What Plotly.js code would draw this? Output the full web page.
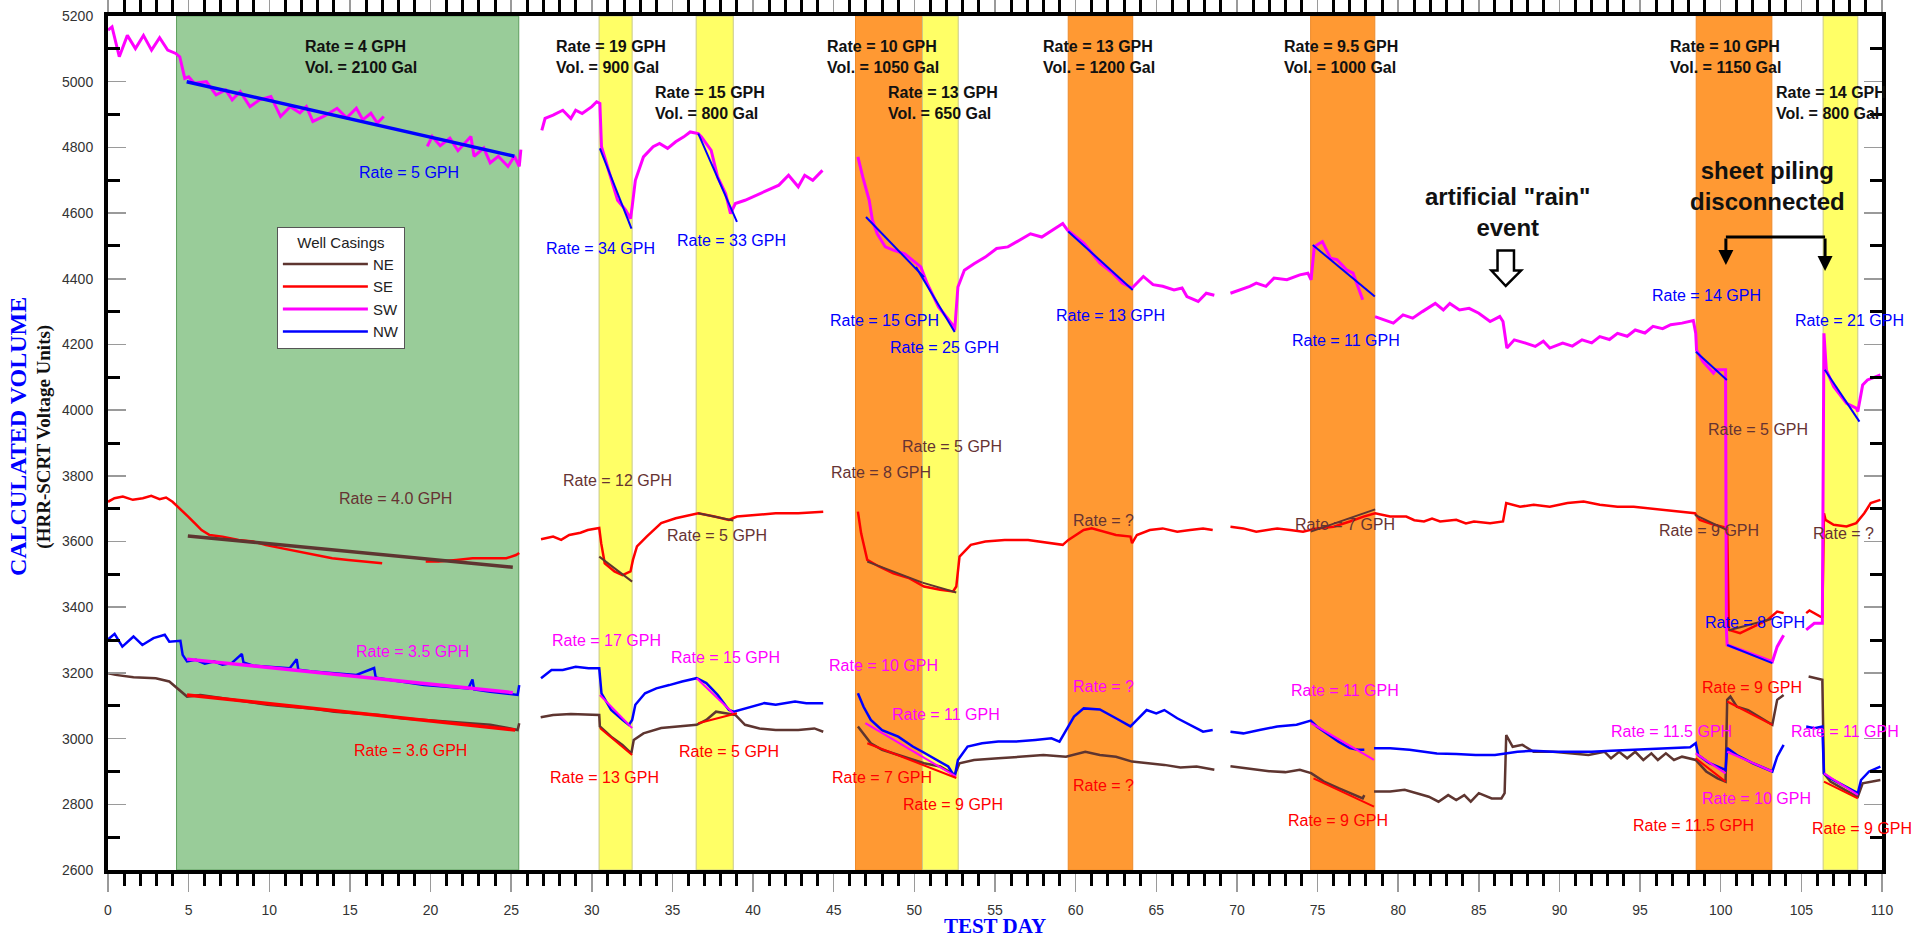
<!DOCTYPE html>
<html><head><meta charset="utf-8">
<script src="https://cdn.plot.ly/plotly-3.0.1.min.js"></script>
<style>html,body{margin:0;padding:0;background:#fff;}#chart{width:1911px;height:938px;}</style>
</head><body><div id="chart"></div>
<script>
// ---------------- DATA ----------------
const SW_x = [0,0.25,0.7,1.2,1.7,2.2,2.7,3.2,3.7,4.2,4.45,4.76,5.0,5.35,6.1,6.7,7.3,7.7,8.2,8.8,9.4,10.1,10.7,11.3,11.9,12.3,12.7,13.4,14.2,14.8,15.4,15.8,16.3,16.7,17.1,null,
 19.8,20.1,20.6,21.2,21.7,22.5,22.7,23.3,23.7,24.2,24.8,25.2,25.5,25.6,null,
 26.9,27.1,27.6,28.2,28.7,29.0,29.4,30.0,30.3,30.5,30.6,31.2,31.6,32.1,32.4,32.5,32.7,33.2,33.8,34.2,34.7,35.2,35.7,36.1,36.6,36.8,37.4,37.8,38.3,38.6,38.9,39.5,40.2,40.6,41.1,41.6,42.2,42.8,43.2,43.7,44.3,null,
 46.5,46.8,47.2,47.4,47.7,48.2,48.7,49.4,49.9,50.4,50.8,51.5,52.0,52.4,52.5,52.7,53.1,53.7,54.4,55.1,55.8,56.5,57.2,57.9,58.6,59.2,59.5,60.5,61.5,62.3,62.9,63.5,64.2,64.8,65.4,66.1,66.6,66.9,67.6,68.1,68.6,null,
 69.6,70.2,70.8,71.2,71.8,72.3,73.1,73.9,74.4,74.6,74.8,75.3,75.8,76.2,76.8,77.2,77.5,77.8,null,
 78.56,79.1,79.7,80.3,80.9,81.5,82.3,82.8,83.2,83.8,84.4,85.0,85.7,86.3,86.5,86.74,87.2,87.9,88.5,89.0,89.4,90.2,90.8,91.4,92.0,92.5,93.1,93.6,94.2,94.7,95.3,95.8,96.4,96.9,97.6,98.3,98.45,98.5,98.9,99.55,99.7,100.3,100.35,100.4,101.2,102.0,103.2,103.5,103.9,null,
 105.3,105.8,106.3,106.4,106.55,107.0,107.8,108.4,108.5,108.8,109.1,109.9];
const SW_y = [5157,5167,5076,5141,5101,5141,5096,5134,5096,5086,5076,5010,5015,4995,5000,4960,4975,4945,4970,4924,4945,4955,4894,4924,4905,4924,4879,4895,4919,4890,4919,4884,4904,4874,4894,null,
 4803,4833,4805,4828,4790,4833,4773,4798,4753,4773,4742,4773,4742,4793,null,
 4852,4888,4898,4913,4888,4913,4903,4924,4939,4934,4802,4700,4639,4609,4583,4619,4700,4771,4802,4812,4797,4817,4832,4847,4842,4832,4791,4710,4659,4598,4629,4639,4654,4664,4675,4685,4715,4680,4715,4700,4730,null,
 4771,4710,4639,4578,4537,4497,4487,4476,4456,4436,4385,4314,4283,4258,4243,4375,4426,4446,4466,4492,4497,4517,4537,4527,4548,4568,4548,4509,4448,4417,4387,4372,4407,4382,4377,4366,4372,4346,4331,4356,4350,null,
 4356,4366,4377,4387,4377,4402,4397,4412,4417,4397,4498,4513,4463,4458,4427,4417,4377,4336,null,
 4285,4275,4265,4290,4280,4300,4325,4305,4325,4305,4310,4295,4270,4285,4270,4189,4214,4204,4194,4210,4189,4204,4195,4214,4205,4224,4215,4234,4225,4244,4235,4255,4248,4260,4265,4273,4234,4183,4148,4113,4123,4123,3331,3285,3270,3255,3234,3280,3315,null,
 3331,3351,3351,4234,4122,4072,4021,4006,3996,4077,4092,4107];

const SE_x = [0,0.4,0.92,1.54,2.16,2.68,3.2,3.6,4.0,4.46,4.97,5.5,5.8,6.3,7.1,8.1,9.0,9.8,10.8,11.8,12.9,13.9,14.9,16.0,17.0,null,
 19.7,20.5,21.6,22.6,23.7,24.7,25.3,25.5,null,
 26.85,27.6,28.1,28.6,29.3,29.75,30.46,30.58,30.8,31.4,31.9,32.4,32.55,32.8,33.4,34.3,35.2,36.2,36.6,37.6,38.5,39.0,40.4,41.4,42.8,44.35,null,
 46.5,46.7,47.08,47.8,48.7,49.7,50.6,51.6,52.4,52.6,52.8,53.5,54.4,55.6,57.05,58.5,59.2,59.55,60.5,61.0,61.8,62.5,63.4,63.5,63.8,64.6,65.4,66.3,67.1,67.9,68.5,null,
 69.6,70.4,71.2,72.5,73.3,74.1,74.95,76.0,77.0,77.85,78.57,79.5,80.5,81.0,81.6,82.1,82.6,83.6,84.2,84.7,85.7,86.5,86.7,87.56,88.4,89.4,90.5,91.5,92.5,93.6,94.6,95.6,96.7,97.7,98.4,98.7,99.6,100.4,100.5,101.2,102.0,102.9,103.5,103.9,null,
 105.3,105.5,106.2,106.3,106.4,106.5,107.0,107.8,108.4,108.9,109.3,109.9];
const SE_y = [3721,3732,3737,3727,3732,3739,3729,3734,3721,3701,3676,3650,3635,3620,3615,3605,3600,3589,3579,3569,3559,3549,3544,3539,3534,null,
 3539,3539,3544,3549,3549,3549,3559,3565,null,
 3607,3615,3605,3620,3627,3635,3641,3595,3534,3509,3498,3509,3544,3585,3615,3656,3671,3681,3686,3676,3666,3676,3681,3686,3686,3691,null,
 3691,3625,3544,3524,3503,3488,3463,3453,3448,3463,3554,3590,3600,3605,3605,3595,3590,3605,3635,3640,3630,3620,3615,3595,3620,3635,3640,3630,3635,3640,3635,null,
 3645,3640,3630,3640,3635,3630,3640,3645,3661,3676,3686,3676,3676,3665,3661,3670,3661,3666,3655,3661,3656,3661,3717,3706,3712,3706,3717,3722,3712,3706,3706,3701,3696,3691,3686,3666,3651,3641,3331,3321,3341,3361,3387,3382,null,
 3382,3390,3371,3371,3686,3666,3651,3646,3656,3686,3717,3727];

const NW_x = [0,0.41,0.89,1.58,2.13,2.82,3.52,3.8,4.49,4.63,4.9,5.45,6.0,6.56,7.1,7.67,8.3,8.4,9.0,9.9,11.27,11.7,11.8,12.66,14.04,15.4,16.5,16.6,16.8,18.2,19.6,21.0,22.35,22.6,22.7,23.7,24.8,25.4,25.5,null,
 26.85,27.5,28.2,29.0,29.8,30.46,30.6,31.2,31.9,32.3,32.5,32.7,33.3,34.0,34.8,35.6,36.5,37.1,37.8,38.5,38.8,39.5,40.7,41.4,42.6,43.3,44.35,null,
 46.5,46.85,47.3,48.0,49.0,49.9,50.5,51.4,52.1,52.5,52.7,53.3,54.2,55.2,56.3,57.5,58.5,59.0,59.4,59.9,60.5,61.5,62.5,63.4,63.8,64.4,65.0,65.5,66.3,67.1,67.9,68.5,null,
 69.6,70.4,71.4,72.5,73.7,74.58,74.95,75.4,75.8,76.3,77.0,77.5,77.9,null,
 78.5,79.5,80.7,81.5,82.4,83.6,84.8,86.0,86.7,87.4,88.4,89.6,90.8,92.0,93.2,94.5,95.7,96.9,98.1,98.45,98.6,99.3,100.3,100.4,101.0,102.0,103.2,103.5,103.9,null,
 105.3,105.8,106.3,106.4,106.8,107.7,108.5,108.7,109.2,109.9];
const NW_y = [3302,3319,3280,3311,3285,3306,3316,3295,3298,3255,3235,3240,3228,3235,3225,3230,3258,3232,3222,3219,3214,3242,3210,3204,3199,3194,3215,3186,3184,3174,3163,3158,3153,3180,3150,3143,3138,3133,3163,null,
 3184,3209,3209,3219,3214,3214,3138,3087,3057,3042,3057,3103,3138,3153,3163,3174,3184,3169,3133,3087,3082,3092,3108,3103,3113,3108,3108,null,
 3138,3097,3057,3026,3006,2976,2960,2935,2915,2884,2935,2976,2986,2991,2991,2996,3001,2991,3026,3067,3092,3089,3062,3037,3057,3087,3077,3087,3062,3042,3021,3026,null,
 3021,3016,3026,3037,3042,3055,3037,3021,3006,2991,2971,2966,2966,null,
 2971,2971,2966,2960,2955,2953,2950,2950,2955,2960,2963,2960,2960,2960,2963,2966,2968,2971,2974,2986,2950,2925,2905,2971,2950,2925,2900,2945,2981,null,
 3037,3032,3037,2894,2879,2854,2834,2874,2900,2915];

const NE_x = [0,0.47,1.58,2.96,3.8,4.2,4.63,4.9,5.73,7.1,8.5,9.9,11.27,12.66,14.04,15.4,16.8,18.2,19.6,21.0,22.35,23.7,24.8,25.4,25.5,null,
 26.83,27.6,28.7,29.8,30.46,30.5,31.2,31.9,32.45,32.6,33.2,34.3,35.4,36.5,37.1,37.7,38.3,38.9,39.5,40.4,41.4,42.8,43.8,44.35,null,
 46.5,46.85,47.3,48.0,49.0,49.9,50.6,51.6,52.5,52.8,53.7,55.2,56.6,58.0,59.4,60.6,61.5,62.5,63.5,64.5,65.5,66.5,67.5,68.6,null,
 69.6,70.8,72.0,73.0,73.9,74.6,75.4,76.3,77.0,77.8,77.9,null,
 78.5,79.5,80.4,81.2,81.9,82.5,83.1,83.6,84.1,84.5,85.0,85.8,86.4,86.6,86.7,87.1,87.7,88.4,89.6,90.8,91.8,92.8,93.2,93.7,94.2,94.7,95.2,95.7,96.1,96.6,97.1,97.6,98.45,99.1,99.8,100.3,100.4,100.6,101.0,101.7,102.4,103.2,103.5,103.9,null,
 105.45,106.3,106.4,106.8,107.7,108.5,108.8,109.9];
const NE_y = [3199,3194,3187,3184,3174,3158,3138,3128,3133,3123,3113,3103,3097,3092,3082,3077,3072,3062,3057,3052,3047,3042,3032,3026,3047,null,
 3065,3072,3075,3072,3072,3037,3006,2981,2955,2996,3016,3032,3037,3042,3057,3082,3077,3072,3042,3031,3026,3026,3031,3021,null,
 3037,3016,2986,2966,2950,2935,2925,2915,2890,2925,2935,2940,2945,2950,2945,2960,2950,2945,2930,2925,2920,2912,2915,2905,null,
 2916,2908,2901,2898,2905,2895,2869,2849,2834,2818,2828,null,
 2839,2839,2844,2834,2823,2808,2828,2813,2828,2808,2834,2818,2818,2834,3011,2975,2981,2960,2960,2955,2950,2960,2940,2960,2940,2960,2935,2955,2935,2955,2935,2945,2935,2900,2879,2869,3118,3128,3097,3087,3067,3042,3118,3133,null,
 3189,3179,2894,2869,2844,2823,2864,2874];

// straight-line rate fits (pairs of end points, separated by null)
const SWfitG_x = [4.88,25.2];           const SWfitG_y = [5000,4773];
const SWfit_x = [30.5,32.46,null,36.6,39.0,null,47.0,50.6,null,50.1,52.5,null,59.54,63.54,null,74.7,78.55,null,98.46,100.38,null,100.4,103.2,null,106.45,108.6];
const SWfit_y = [4797,4553,null,4842,4573,null,4588,4405,null,4436,4238,null,4544,4366,null,4503,4346,null,4178,4092,null,3285,3230,null,4123,3965];
const SEfitG_x = [4.95,25.1];           const SEfitG_y = [3617,3522];
const SEfit_x = [30.46,32.5,null,36.6,38.77,null,47.08,50.5,null,50.5,52.6,null,74.58,78.57,null,98.4,100.4,null,100.5,103.2];
const SEfit_y = [3554,3478,null,3686,3664,null,3539,3475,null,3475,3445,null,3630,3698,null,3681,3635,null,3330,3365];
const NWfitG_x = [4.9,25.1];            const NWfitG_y = [3242,3140];
const NWfit_x = [30.5,32.5,null,36.5,38.77,null,46.96,52.6,null,74.6,78.5,null,98.45,100.3,null,100.4,103.2,null,106.4,108.5];
const NWfit_y = [3133,3032,null,3184,3077,null,3047,2884,null,3047,2935,null,2955,2894,null,2960,2900,null,2894,2829];
const NEfitG_x = [4.9,25.25];           const NEfitG_y = [3133,3026];
const NEfit_x = [30.5,32.5,null,36.6,39.0,null,47.08,52.6,null,74.75,78.5,null,98.45,100.3,null,100.4,103.2,null,106.4,108.5];
const NEfit_y = [3032,2950,null,3047,3077,null,2986,2880,null,2879,2793,null,2940,2869,null,3113,3042,null,2869,2818];

// test periods (shaded bands)
const bandStart = [4.25,30.45,36.47,46.35,50.5,59.54,74.57,98.48,106.35];
const bandEnd   = [25.47,32.5,38.77,50.5,52.72,63.54,78.55,103.17,108.5];
const bandKind  = ['green','yellow','yellow','orange','yellow','orange','orange','orange','yellow'];

const wellNames = ['NE','SE','SW','NW'];

// test labels (bold black)
const testText = ['Rate = 4 GPH<br>Vol. = 2100 Gal','Rate = 19 GPH<br>Vol. = 900 Gal','Rate = 15 GPH<br>Vol. = 800 Gal',
  'Rate = 10 GPH<br>Vol. = 1050 Gal','Rate = 13 GPH<br>Vol. = 650 Gal','Rate = 13 GPH<br>Vol. = 1200 Gal',
  'Rate = 9.5 GPH<br>Vol. = 1000 Gal','Rate = 10 GPH<br>Vol. = 1150 Gal','Rate = 14 GPH<br>Vol. = 800 Gal'];
const testX = [12.1,27.65,33.8,44.45,48.25,57.83,72.8,96.76,103.3];
const testY = [5074,5074,4934,5074,4934,5074,5074,5074,4934];

// rate labels
const rateText = ['Rate = 5 GPH','Rate = 34 GPH','Rate = 33 GPH','Rate = 15 GPH','Rate = 25 GPH','Rate = 13 GPH','Rate = 11 GPH','Rate = 14 GPH','Rate = 21 GPH','Rate = 8 GPH',
  'Rate = 4.0 GPH','Rate = 12 GPH','Rate = 5 GPH','Rate = 8 GPH','Rate = 5 GPH','Rate = ?','Rate = 7 GPH','Rate = 5 GPH','Rate = 9 GPH','Rate = ?',
  'Rate = 3.5 GPH','Rate = 17 GPH','Rate = 15 GPH','Rate = 10 GPH','Rate = 11 GPH','Rate = ?','Rate = 11 GPH','Rate = 11.5 GPH','Rate = 10 GPH','Rate = 11 GPH',
  'Rate = 3.6 GPH','Rate = 13 GPH','Rate = 5 GPH','Rate = 7 GPH','Rate = 9 GPH','Rate = ?','Rate = 9 GPH','Rate = 11.5 GPH','Rate = 9 GPH','Rate = 9 GPH'];
const rateX = [15.47,27.04,35.14,44.62,48.34,58.67,73.29,95.63,104.5,98.9,
  14.22,28.09,34.55,44.71,49.1,59.69,73.46,99.08,96.04,105.6,
  15.23,27.42,34.78,44.59,48.46,59.69,73.2,93.08,98.73,104.25,
  15.15,27.28,35.28,44.76,49.2,59.7,73.06,94.41,98.73,105.55];
const rateY = [4724,4493,4516,4273,4191,4287,4212,4348,4273,3353,
  3730,3785,3617,3810,3889,3664,3651,3940,3633,3623,
  3265,3298,3247,3224,3072,3158,3148,3023,2818,3021,
  2964,2882,2960,2882,2800,2856,2752,2735,3156,2727];
const rateColor = ['b','b','b','b','b','b','b','b','b','b','n','n','n','n','n','n','n','n','n','n',
  'm','m','m','m','m','m','m','m','m','m','r','r','r','r','r','r','r','r','r','r'];

// ---------------- STYLE ----------------
const C = {n:'#5E3530', r:'#FF0000', m:'#FF00FF', b:'#0000FF'};
const TXT = {n:'#663333', r:'#FF0000', m:'#FF00FF', b:'#0000FF'};
const bandFill = {green:'#99CC99', yellow:'#FFFF66', orange:'#FF9933'};
const bandLine = {green:'#5E9E5E', yellow:'#C9C98A', orange:'#EE8A2A'};
const SANS = 'Liberation Sans, Arial, sans-serif';
const SERIF = 'Liberation Serif, Times New Roman, serif';

function dataTrace(x,y,col,name,w){return {x:x,y:y,type:'scatter',mode:'lines',name:name,line:{color:col,width:w},hoverinfo:'skip'};}
function fitTrace(x,y,col,w){return {x:x,y:y,type:'scatter',mode:'lines',showlegend:false,line:{color:col,width:w},hoverinfo:'skip'};}

const traces = [
  dataTrace(NE_x,NE_y,C.n,wellNames[0],2.5),
  dataTrace(SE_x,SE_y,C.r,wellNames[1],2.5),
  dataTrace(SW_x,SW_y,C.m,wellNames[2],3),
  dataTrace(NW_x,NW_y,C.b,wellNames[3],2.5),
  fitTrace(SWfitG_x,SWfitG_y,C.b,3.5), fitTrace(SWfit_x,SWfit_y,C.b,2),
  fitTrace(SEfitG_x,SEfitG_y,C.n,3.5), fitTrace(SEfit_x,SEfit_y,C.n,2),
  fitTrace(NWfitG_x,NWfitG_y,C.m,3.5), fitTrace(NWfit_x,NWfit_y,C.m,2),
  fitTrace(NEfitG_x,NEfitG_y,C.r,3.5), fitTrace(NEfit_x,NEfit_y,C.r,2)
];

const shapes = [];
for(let i=0;i<bandStart.length;i++){
  shapes.push({type:'rect',xref:'x',yref:'paper',x0:bandStart[i],x1:bandEnd[i],y0:0,y1:1,layer:'below',
    fillcolor:bandFill[bandKind[i]],line:{color:bandLine[bandKind[i]],width:1}});
}
// hollow arrow for rain event
shapes.push({type:'path',xref:'x',yref:'y',layer:'above',
  path:'M86.16,4486 L87.18,4486 L87.18,4425 L87.62,4425 L86.67,4378 L85.78,4425 L86.16,4425 Z',
  fillcolor:'white',line:{color:'black',width:2.5}});
// bracket for sheet piling
shapes.push({type:'line',xref:'x',yref:'y',x0:100.32,x1:106.47,y0:4527,y1:4527,line:{color:'black',width:3}});

const annotations = [];
for(let i=0;i<testText.length;i++){
  annotations.push({x:testX[i],y:testY[i],xref:'x',yref:'y',text:'<b>'+testText[i]+'</b>',showarrow:false,
    xanchor:'left',yanchor:'middle',align:'left',font:{family:SANS,size:16,color:'#111'}});
}
for(let i=0;i<rateText.length;i++){
  annotations.push({x:rateX[i],y:rateY[i],xref:'x',yref:'y',text:rateText[i],showarrow:false,
    xanchor:'left',yanchor:'middle',font:{family:SANS,size:16,color:TXT[rateColor[i]]}});
}
annotations.push({x:86.8,y:4604,xref:'x',yref:'y',text:'<b>artificial "rain"<br>event</b>',showarrow:false,
  xanchor:'center',yanchor:'middle',align:'center',font:{family:SANS,size:24,color:'#111'}});
annotations.push({x:102.9,y:4683,xref:'x',yref:'y',text:'<b>sheet piling<br>disconnected</b>',showarrow:false,
  xanchor:'center',yanchor:'middle',align:'center',font:{family:SANS,size:24,color:'#111'}});
annotations.push({x:100.32,y:4442,ax:100.32,ay:4527,xref:'x',yref:'y',axref:'x',ayref:'y',text:'',showarrow:true,
  arrowhead:2,arrowsize:1,arrowwidth:3,arrowcolor:'black'});
annotations.push({x:106.47,y:4424,ax:106.47,ay:4527,xref:'x',yref:'y',axref:'x',ayref:'y',text:'',showarrow:true,
  arrowhead:2,arrowsize:1,arrowwidth:3,arrowcolor:'black'});
// y axis titles
annotations.push({x:-0.0508,y:0.508,xref:'paper',yref:'paper',text:'<b>CALCULATED VOLUME</b>',showarrow:false,textangle:-90,
  xanchor:'center',yanchor:'middle',font:{family:SERIF,size:24,color:'#0000FF'}});
annotations.push({x:-0.0358,y:0.508,xref:'paper',yref:'paper',text:'<b>(HRR-SCRT Voltage Units)</b>',showarrow:false,textangle:-90,
  xanchor:'center',yanchor:'middle',font:{family:SERIF,size:19,color:'#111'}});

const layout = {
  width:1911,height:938,
  margin:{l:108,r:29,t:16,b:68},
  paper_bgcolor:'white',plot_bgcolor:'white',
  showlegend:true,
  legend:{x:0.0952,y:0.7527,xanchor:'left',yanchor:'top',bgcolor:'white',bordercolor:'#555',borderwidth:1,
    font:{family:SANS,size:15,color:'#222'},title:{text:'Well Casings',side:'top center',font:{family:SANS,size:15,color:'#222'}},
    itemwidth:85,tracegroupgap:0},
  xaxis:{range:[0,110],autorange:false,showgrid:false,zeroline:false,showline:true,linecolor:'black',linewidth:4,mirror:'ticks',
    ticks:'outside',ticklen:18,tickwidth:1.5,tickcolor:'#9a9a9a',tick0:0,dtick:5,ticklabelstandoff:6,
    minor:{ticks:'outside',ticklen:12,tickwidth:3,tickcolor:'black',dtick:1,tick0:0,showgrid:false},
    tickfont:{family:SANS,size:14,color:'#333'},
    title:{text:'<b>TEST DAY</b>',font:{family:SERIF,size:21,color:'#0000FF'},standoff:2}},
  yaxis:{range:[2600,5200],autorange:false,showgrid:false,zeroline:false,showline:true,linecolor:'black',linewidth:4,mirror:'ticks',
    ticks:'inside',ticklen:18,tickwidth:1.5,tickcolor:'#9a9a9a',tick0:2600,dtick:200,ticklabelstandoff:8,
    minor:{ticks:'inside',ticklen:12,tickwidth:3,tickcolor:'black',dtick:100,tick0:2600,showgrid:false},
    tickfont:{family:SANS,size:14,color:'#333'}},
  shapes:shapes,annotations:annotations
};

Plotly.newPlot('chart',traces,layout,{staticPlot:true,displayModeBar:false});
</script></body></html>
